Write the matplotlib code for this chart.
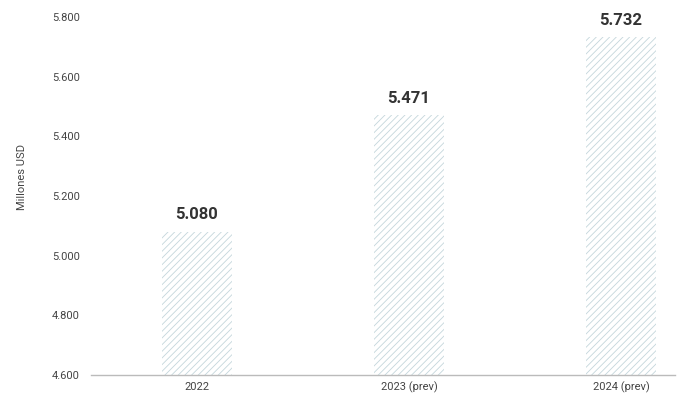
import matplotlib
matplotlib.use("Agg")
import matplotlib.pyplot as plt

categories = ["2022", "2023 (prev)", "2024 (prev)"]
values = [5080, 5471, 5732]
value_labels = ["5.080", "5.471", "5.732"]
yticks = [4600, 4800, 5000, 5200, 5400, 5600, 5800]
ytick_labels = ["4.600", "4.800", "5.000", "5.200", "5.400", "5.600", "5.800"]

plt.rcParams['font.family'] = ['Roboto', 'DejaVu Sans']
plt.rcParams['hatch.linewidth'] = 0.6
plt.rcParams['hatch.color'] = '#c4d6dc'

fig = plt.figure(figsize=(6.79, 4.05), dpi=100)
ax = fig.add_axes([0.134, 0.074, 0.86, 0.884])

x = list(range(len(categories)))
ax.bar(x, [v - 4600 for v in values], bottom=4600, width=0.33,
       color='white', edgecolor='#c4d6dc', linewidth=0, hatch='/////')

for xi, v, lab in zip(x, values, value_labels):
    ax.text(xi, v + 32, lab, ha='center', va='bottom', fontsize=12,
            fontweight='bold', color='#333333')

ax.set_xlim(-0.5, 2.255)
ax.set_ylim(4600, 5800)
ax.set_yticks(yticks)
ax.set_yticklabels(ytick_labels)
ax.set_xticks(x)
ax.set_xticklabels(categories)
ax.tick_params(axis='both', length=0, labelsize=8, colors='#444444')
ax.tick_params(axis='y', pad=8)
ax.tick_params(axis='x', pad=5)

for s in ['top', 'right', 'left']:
    ax.spines[s].set_visible(False)
ax.spines['bottom'].set_color('#bbbbbb')
ax.spines['bottom'].set_linewidth(1.0)

ax.set_ylabel("Millones USD", fontsize=8, color='#444444')
ax.yaxis.set_label_coords(-0.11, 0.553)

fig.savefig("out.png", dpi=100)
